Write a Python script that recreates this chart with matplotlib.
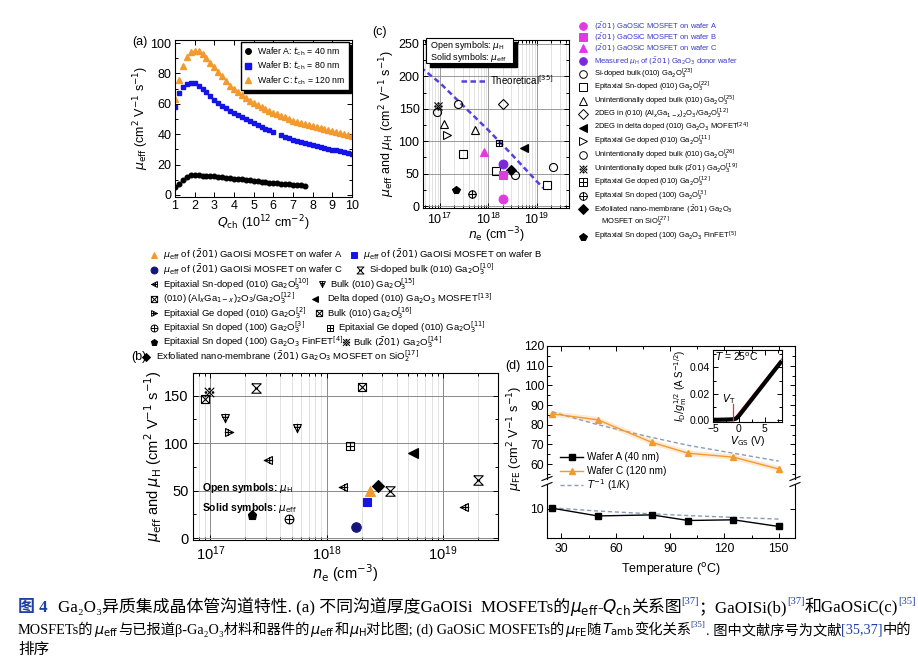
import numpy as np
import matplotlib
matplotlib.use("Agg")
import matplotlib.pyplot as plt
from matplotlib.path import Path
from matplotlib.patches import Rectangle
from matplotlib.ticker import MultipleLocator, FixedLocator, FormatStrFormatter

plt.rcParams['font.family'] = ['Liberation Sans', 'DejaVu Sans']
plt.rcParams['axes.linewidth'] = 0.8

# ---------------- data ----------------
# (a) mu_eff vs Q_ch
Q_GRID = [1.0, 1.2, 1.4, 1.6, 1.8, 2.0, 2.2, 2.4, 2.6, 2.8, 3.0, 3.2, 3.4, 3.6, 3.8, 4.0,
          4.2, 4.4, 4.6, 4.8, 5.0, 5.2, 5.4, 5.6, 5.8, 6.0, 6.2, 6.4, 6.6, 6.8, 7.0, 7.2,
          7.4, 7.6, 7.8, 8.0, 8.2, 8.4, 8.6, 8.8, 9.0, 9.2, 9.4, 9.6, 9.8, 10.0]
mu_wafer_a = [5.0, 7.5, 10.0, 12.0, 13.0, 13.1, 13.0, 12.8, 12.6, 12.4, 12.2, 12.0, 11.7,
              11.4, 11.1, 10.8, 10.5, 10.2, 9.9, 9.6, 9.3, 9.0, 8.7, 8.4, 8.1, 7.9, 7.6,
              7.4, 7.2, 7.0, 6.8, 6.6, 6.4, 6.2]
mu_wafer_b = [58, 67, 71, 73, 74, 73.5, 72, 70, 67.5, 65, 62.5, 60.5, 58.8, 57.2, 55.6, 54,
              52.6, 51.2, 49.8, 48.5, 47.2, 46, 44.8, 43.6, 42.5, 41.4, np.nan, 39.2, 38.2,
              37.2, 36.3, 35.5, 34.8, 34.1, 33.4, 32.7, 32.1, 31.5, 30.9, 30.3, 29.8, 29.3,
              28.8, 28.3, 27.8, 27.3]
mu_wafer_c = [63, 76, 85, 91, 94, 95, 94.5, 92.5, 90, 87, 84, 81, 78, 75, 72, 69.5, 67.5,
              65.5, 63.8, 62, 60.5, 59, 57.7, 56.4, 55.2, 54, 53, 52, 51, 50, 49, 48.2, 47.4,
              46.6, 45.9, 45.2, 44.6, 44, 43.3, 42.6, 42, 41.4, 40.8, 40.2, 39.6, 39]

# (b) GaOISi comparison
b_wafer_a = ([2.35e18], [50])
b_wafer_b = ([2.2e18], [38])
b_wafer_c = ([1.8e18], [12])
b_si_bulk10 = ([2.48e17, 3.5e18, 2.0e19], [158, 50, 61])
b_sn010 = ([3.1e17, 1.39e18, 1.51e19], [82, 54, 33])
b_bulk15 = ([1.33e17, 5.5e17], [127, 116])
b_algao = ([2.0e18], [159])
b_delta = ([5.5e18], [90])
b_ge2 = ([1.46e17], [112])
b_bulk16 = ([0.9e17], [147])
b_sn100 = ([4.75e17], [20])
b_ge11 = ([1.58e18], [97])
b_finfet = ([2.3e17], [24])
b_bulk14 = ([0.98e17], [154])
b_exfol = ([2.75e18], [55])

# (c) GaOSiC comparison
c_wafer_a = ([2.05e18], [11])
c_wafer_b = ([2.05e18], [48])
c_wafer_c = ([8.1e17], [83])
c_donor = ([2.05e18], [65])
c_si_bulk23 = ([2.4e17, 3.6e18, 2.2e19], [157, 48, 60])
c_sn010_22 = ([3.0e17, 1.43e18, 1.65e19], [81, 54, 32])
c_uid25 = ([1.2e17, 5.3e17], [126, 117])
c_2deg = ([2.05e18], [157])
c_delta24 = ([5.4e18], [90])
c_ge11 = ([1.4e17], [110])
c_uid26 = ([0.88e17], [145])
c_uid19 = ([0.92e17], [154])
c_ge12 = ([1.68e18], [97])
c_sn100 = ([4.7e17], [19])
c_exfol = ([2.9e18], [55])
c_finfet = ([2.15e17], [24])
theory_ne = [4.0e16, 1e17, 3e17, 1e18, 3e18, 1e19, 1.35e19]
theory_mu = [214, 190, 155, 117, 80, 38, 28]

# (d) mu_FE vs temperature
temps = [25, 50, 80, 100, 125, 150]
mufe_a = [10.2, 8.0, 8.3, 6.7, 6.9, 5.0]
mufe_c = [85.5, 82.5, 71, 65.5, 63.5, 57.5]
tinv_c = [86.5, 80, 73.5, 69.5, 65.5, 61.5]
tinv_a = [10.3, 9.4, 8.6, 8.1, 7.6, 7.1]
vgs = [-4.5, -4, -3, -2, -1.5, -1, -0.5, 0, 1, 2, 3, 4, 5, 6, 7, 8]
id_gm = [0.0005, 0.0005, 0.0006, 0.0007, 0.0008, 0.0009, 0.0015, 0.0035, 0.0085, 0.0135,
         0.0185, 0.0235, 0.0285, 0.0335, 0.0385, 0.0435]

ORANGE = '#F39A2E'
BLUE = '#1414E6'
NAVY = '#16167A'
MAGENTA = '#E03BE0'
PURPLE = '#7A2AD8'
THEORY = '#5B3DE3'
LEGBLUE = '#3838C8'
DASH = '#8A9BB8'
CAP_BLUE = '#1F3FA8'

W, H = 918, 660
fig = plt.figure(figsize=(W / 100, H / 100), dpi=100)


def add_ax(l, t, r, b):
    return fig.add_axes([l / W, 1 - b / H, (r - l) / W, (b - t) / H])


def polys(*lines):
    verts, codes = [], []
    for ln in lines:
        verts += ln
        codes += [Path.MOVETO] + [Path.LINETO] * (len(ln) - 1)
    return Path(verts, codes)


SQ = [(-1, -1), (1, -1), (1, 1), (-1, 1), (-1, -1)]
MK = {
    'sn010': polys([(1, 1), (1, -1), (-1, 0), (1, 1)], [(-1.2, 0), (1.2, 0)], [(0.3, -0.75), (0.3, 0.75)]),
    'bulk15': polys([(-1, 1), (1, 1), (0, -1), (-1, 1)], [(0, 1.2), (0, -1.2)], [(-0.75, 0.3), (0.75, 0.3)]),
    'ge2': polys([(-1, 1), (-1, -1), (1, 0), (-1, 1)], [(-1.2, 0), (1.2, 0)], [(-0.3, -0.75), (-0.3, 0.75)]),
    'sqx': polys(SQ, [(-1, -1), (1, 1)], [(-1, 1), (1, -1)]),
    'sqplus': polys(SQ, [(-1, 0), (1, 0)], [(0, -1), (0, 1)]),
    'oplus': Path.make_compound_path(Path.unit_circle(), polys([(-1, 0), (1, 0)], [(0, -1), (0, 1)])),
    'hourglass': polys([(-1, 1), (1, 1), (-1, -1), (1, -1), (-1, 1)], [(-0.35, 0), (0.35, 0)]),
    'refmark': Path.make_compound_path(
        polys([(-1, -1), (1, 1)], [(-1, 1), (1, -1)]),
        Path.circle((0, 0.75), 0.16), Path.circle((0, -0.75), 0.16),
        Path.circle((0.75, 0), 0.16), Path.circle((-0.75, 0), 0.16)),
}


def pts(ax, data, marker, color='k', filled=False, ms=6, mew=0.8, **kw):
    ax.plot(data[0], data[1], ls='none', marker=marker, ms=ms, mec=color,
            mfc=color if filled else 'none', mew=mew, clip_on=False, **kw)


def style(ax, size, pad=3):
    ax.tick_params(which='both', direction='in', top=True, right=True, labelsize=size, width=0.7, pad=pad)
    ax.tick_params(which='major', length=3.5)
    ax.tick_params(which='minor', length=2)


# ---------------- (a) ----------------
axA = add_ax(175, 40, 352, 196.5)
axA.plot(Q_GRID[:len(mu_wafer_a)], mu_wafer_a, 'o', color='k', ms=3.3,
         label=r"Wafer A: $t_{\rm ch}$ = 40 nm")
axA.plot(Q_GRID, mu_wafer_b, 's', color=BLUE, ms=3.2, label=r"Wafer B: $t_{\rm ch}$ = 80 nm")
axA.plot(Q_GRID, mu_wafer_c, '^', color=ORANGE, ms=3.8, label=r"Wafer C: $t_{\rm ch}$ = 120 nm")
axA.set_xlim(1, 10)
axA.set_ylim(-1, 102)
axA.xaxis.set_major_locator(MultipleLocator(1))
axA.yaxis.set_major_locator(MultipleLocator(20))
axA.yaxis.set_minor_locator(MultipleLocator(10))
style(axA, 9, pad=2.5)
axA.set_ylabel(r"$\mu_{\rm eff}$ (cm$^2$ V$^{-1}$ s$^{-1}$)", fontsize=9, labelpad=0)
axA.set_xlabel(r"$Q_{\rm ch}$ (10$^{12}$ cm$^{-2}$)", fontsize=9, labelpad=1)
axA.legend(loc='upper right', bbox_to_anchor=(1.005, 1.015), fontsize=6.3, fancybox=False,
           edgecolor='k', framealpha=1, shadow={'color': 'k', 'alpha': 1}, handlelength=1,
           handletextpad=0.5, borderpad=0.35, labelspacing=0.25, markerscale=1.2)

# ---------------- (b) ----------------
axB = add_ax(193, 373, 498, 540)
axB.set_xscale('log')
axB.set_xlim(7.1e16, 2.96e19)
axB.set_ylim(-2, 174)
axB.yaxis.set_major_locator(FixedLocator([0, 50, 100, 150]))
axB.yaxis.set_minor_locator(MultipleLocator(25))
axB.set_axisbelow(True)
axB.grid(True, which='major', color='#8a8a8a', lw=0.7)
axB.grid(True, which='minor', axis='x', color='#d6d6d6', lw=0.5)
style(axB, 10.5)
ms_b = 6.8
pts(axB, b_si_bulk10, MK['hourglass'], ms=ms_b)
pts(axB, b_sn010, MK['sn010'], ms=ms_b)
pts(axB, b_bulk15, MK['bulk15'], ms=ms_b)
pts(axB, b_algao, MK['sqx'], ms=ms_b - 1)
pts(axB, b_delta, '<', filled=True, ms=ms_b)
pts(axB, b_ge2, MK['ge2'], ms=ms_b)
pts(axB, b_bulk16, MK['sqx'], ms=ms_b - 1)
pts(axB, b_sn100, MK['oplus'], ms=ms_b - 0.5)
pts(axB, b_ge11, MK['sqplus'], ms=ms_b - 1)
pts(axB, b_finfet, 'p', filled=True, ms=ms_b)
pts(axB, b_bulk14, MK['refmark'], ms=ms_b)
pts(axB, b_exfol, 'D', filled=True, ms=ms_b - 1)
pts(axB, b_wafer_a, '^', color=ORANGE, filled=True, ms=ms_b)
pts(axB, b_wafer_b, 's', color=BLUE, filled=True, ms=ms_b - 0.5)
pts(axB, b_wafer_c, 'o', color=NAVY, filled=True, ms=ms_b)
axB.set_ylabel(r"$\mu_{\rm eff}$ and $\mu_{\rm H}$ (cm$^2$ V$^{-1}$ s$^{-1}$)", fontsize=10.5, labelpad=0)
axB.set_xlabel(r"$n_{\rm e}$ (cm$^{-3}$)", fontsize=10.5, labelpad=0)
axB.text(0.03, 0.31, r"Open symbols: $\mu_{\rm H}$", transform=axB.transAxes, fontsize=7.5,
         fontweight='bold', va='center')
axB.text(0.03, 0.19, r"Solid symbols: $\mu_{\rm eff}$", transform=axB.transAxes, fontsize=7.5,
         fontweight='bold', va='center')

# ---------------- (c) ----------------
axC = add_ax(423, 40, 569, 208)
axC.set_xscale('log')
axC.set_xlim(4.5e16, 4.6e19)
axC.set_ylim(-3, 256)
axC.yaxis.set_major_locator(MultipleLocator(50))
axC.yaxis.set_minor_locator(MultipleLocator(25))
axC.set_axisbelow(True)
axC.grid(True, which='major', color='#8a8a8a', lw=0.6)
axC.grid(True, which='minor', axis='x', color='#d6d6d6', lw=0.5)
style(axC, 9, pad=2.5)
axC.plot(theory_ne, theory_mu, ls=(0, (2.2, 1.4)), color=THEORY, lw=1.8)
ms_c = 5.8
pts(axC, c_si_bulk23, 'o', ms=ms_c)
pts(axC, c_sn010_22, 's', ms=ms_c - 0.5)
pts(axC, c_uid25, '^', ms=ms_c)
pts(axC, c_2deg, 'D', ms=ms_c - 0.5)
pts(axC, c_delta24, '<', filled=True, ms=ms_c)
pts(axC, c_ge11, '>', ms=ms_c)
pts(axC, c_uid26, 'o', ms=ms_c)
pts(axC, c_uid19, MK['refmark'], ms=ms_c)
pts(axC, c_ge12, MK['sqplus'], ms=ms_c - 1)
pts(axC, c_sn100, MK['oplus'], ms=ms_c - 0.5)
pts(axC, c_exfol, 'D', filled=True, ms=ms_c - 0.5)
pts(axC, c_finfet, 'p', filled=True, ms=ms_c)
pts(axC, c_donor, 'o', color=PURPLE, filled=True, ms=ms_c + 0.5)
pts(axC, c_wafer_b, 's', color=MAGENTA, filled=True, ms=ms_c)
pts(axC, c_wafer_c, '^', color=MAGENTA, filled=True, ms=ms_c + 0.5)
pts(axC, c_wafer_a, 'o', color=MAGENTA, filled=True, ms=ms_c + 0.5)
axC.set_ylabel(r"$\mu_{\rm eff}$ and $\mu_{\rm H}$ (cm$^2$ V$^{-1}$ s$^{-1}$)", fontsize=9, labelpad=1)
axC.set_xlabel(r"$n_{\rm e}$ (cm$^{-3}$)", fontsize=9, labelpad=-1)

# ---------------- (d) ----------------
axD = add_ax(547, 346, 795, 479)
axD2 = add_ax(547, 484, 795, 537.5)
for ax in (axD, axD2):
    ax.set_xlim(22, 159)
    ax.xaxis.set_major_locator(MultipleLocator(30))
    ax.xaxis.set_minor_locator(MultipleLocator(15))
    style(ax, 8.7, pad=2)
axD.set_ylim(52.4, 120)
axD.yaxis.set_major_locator(MultipleLocator(10))
axD.yaxis.set_minor_locator(MultipleLocator(5))
axD.spines['bottom'].set_visible(False)
axD.tick_params(which='both', bottom=False, labelbottom=False)
axD2.set_ylim(1.86, 17.1)
axD2.yaxis.set_major_locator(FixedLocator([10]))
axD2.spines['top'].set_visible(False)
axD2.tick_params(which='both', top=False)
axD2.tick_params(axis='x', pad=4)
axD.plot(temps, tinv_c, ls=(0, (3, 2)), color=DASH, lw=1)
axD.plot(temps, mufe_c, '-', color=ORANGE, lw=4, alpha=0.2, solid_capstyle='round')
axD.plot(temps, mufe_c, '-^', color=ORANGE, lw=1, ms=5, clip_on=False)
axD.plot(temps, mufe_a, '-s', color='k', lw=1, ms=4)
axD2.plot(temps, tinv_a, ls=(0, (3, 2)), color=DASH, lw=1)
axD2.plot(temps, mufe_a, '-s', color='k', lw=1, ms=4, clip_on=False)
axD2.set_xlabel("Temperature ($^{\\rm o}$C)", fontsize=9, labelpad=4)

# inset
axI = add_ax(713, 350, 782, 421.5)
axI.plot([-1.2, 8.3], [0, 0.0465], color='#E0304A', lw=0.8)
axI.plot(vgs, id_gm, color='k', lw=3)
axI.plot([-1.2, -1.2], [0, 0.012], color='#E0304A', lw=0.9)
axI.set_xlim(-5, 8.3)
axI.set_ylim(-0.0008, 0.053)
axI.xaxis.set_major_locator(FixedLocator([-5, 0, 5]))
axI.xaxis.set_minor_locator(MultipleLocator(2.5))
axI.yaxis.set_major_locator(FixedLocator([0.0, 0.02, 0.04]))
axI.yaxis.set_minor_locator(MultipleLocator(0.01))
axI.yaxis.set_major_formatter(FormatStrFormatter('%.2f'))
style(axI, 7.5, pad=2)
axI.set_xlabel(r"$V_{\rm GS}$ (V)", fontsize=7.5, labelpad=0)
axI.set_ylabel(r"$I_{\rm D}/g_{\rm m}^{1/2}$ (A S$^{-1/2}$)", fontsize=7, labelpad=1)
axI.text(0.03, 0.84, r"$T$ = 25$^{\rm o}$C", transform=axI.transAxes, fontsize=7.5)
axI.text(-3.3, 0.014, r"$V_{\rm T}$", fontsize=7.5)

# ---------------- overlay (legends, labels, breaks) ----------------
ov = fig.add_axes([0, 0, 1, 1])
ov.set_xlim(0, W)
ov.set_ylim(H, 0)
ov.axis('off')


def entry(xm, xt, y, label, mk, color='k', filled=False, ms=5, fs=6, tcolor='k'):
    ov.plot([xm], [y], ls='none', marker=mk, ms=ms, mec=color, mfc=color if filled else 'none',
            mew=0.7, clip_on=False)
    ov.text(xt, y, label, fontsize=fs, va='center', ha='left', color=tcolor)


bar = r"$(\bar{2}01)$"
# (b) legend
fb = 6.8
entry(154, 163, 255, r"$\mu_{\rm eff}$ of " + bar + " GaOISi MOSFET on wafer A", '^', ORANGE, True, fs=fb)
entry(354, 363, 255, r"$\mu_{\rm eff}$ of " + bar + " GaOISi MOSFET on wafer B", 's', BLUE, True, fs=fb)
entry(154, 163, 269.5, r"$\mu_{\rm eff}$ of " + bar + " GaOISi MOSFET on wafer C", 'o', NAVY, True, fs=fb)
entry(360, 369, 269.5, r"Si-doped bulk (010) Ga$_2$O$_3^{[10]}$", MK['hourglass'], fs=fb)
entry(154, 163, 284, r"Epitaxial Sn-doped (010) Ga$_2$O$_3^{[10]}$", MK['sn010'], fs=fb)
entry(322, 330, 284, r"Bulk (010) Ga$_2$O$_3^{[15]}$", MK['bulk15'], fs=fb)
entry(154, 163, 298.5, r"(010) (Al$_x$Ga$_{1-x}$)$_2$O$_3$/Ga$_2$O$_3^{[12]}$", MK['sqx'], ms=4.5, fs=fb)
entry(315, 327, 298.5, r"Delta doped (010) Ga$_2$O$_3$ MOSFET$^{[13]}$", '<', 'k', True, fs=fb)
entry(154, 163, 313, r"Epitaxial Ge doped (010) Ga$_2$O$_3^{[2]}$", MK['ge2'], fs=fb)
entry(319, 327, 313, r"Bulk (010) Ga$_2$O$_3^{[16]}$", MK['sqx'], ms=4.5, fs=fb)
entry(154, 163, 327.5, r"Epitaxial Sn doped (100) Ga$_2$O$_3^{[3]}$", MK['oplus'], fs=fb)
entry(330, 338, 327.5, r"Epitaxial Ge doped (010) Ga$_2$O$_3^{[11]}$", MK['sqplus'], ms=4.5, fs=fb)
entry(154, 163, 342, r"Epitaxial Sn doped (100) Ga$_2$O$_3$ FinFET$^{[4]}$", 'p', 'k', True, fs=fb)
entry(346, 353, 342, r"Bulk " + bar + r" Ga$_2$O$_3^{[14]}$", MK['refmark'], fs=fb)
entry(146, 156, 356.5, r"Exfoliated nano-membrane " + bar + r" Ga$_2$O$_3$ MOSFET on SiO$_2^{[17]}$", 'D', 'k', True, ms=4.5, fs=fb)

# (c) legend
fc = 5.4
cl = [
    (26, bar + " GaOSiC MOSFET on wafer A", 'o', MAGENTA, True, LEGBLUE),
    (37, bar + " GaOSiC MOSFET on wafer B", 's', MAGENTA, True, LEGBLUE),
    (48, bar + " GaOSiC MOSFET on wafer C", '^', MAGENTA, True, LEGBLUE),
    (61, r"Measured $\mu_{\rm H}$ of " + bar + r" Ga$_2$O$_3$ donor wafer", 'o', PURPLE, True, LEGBLUE),
    (74, r"Si-doped bulk (010) Ga$_2$O$_3^{[23]}$", 'o', 'k', False, 'k'),
    (87, r"Epitaxial Sn-doped (010) Ga$_2$O$_3^{[22]}$", 's', 'k', False, 'k'),
    (100.5, r"Unintentionally doped bulk (010) Ga$_2$O$_3^{[25]}$", '^', 'k', False, 'k'),
    (114, r"2DEG in (010) (Al$_x$Ga$_{1-x}$)$_2$O$_3$/Ga$_2$O$_3^{[12]}$", 'D', 'k', False, 'k'),
    (127.5, r"2DEG in delta doped (010) Ga$_2$O$_3$ MOFET$^{[24]}$", '<', 'k', True, 'k'),
    (141, r"Epitaxial Ge doped (010) Ga$_2$O$_3^{[11]}$", '>', 'k', False, 'k'),
    (155, r"Unintentionally doped bulk (010) Ga$_2$O$_3^{[26]}$", 'o', 'k', False, 'k'),
    (168.5, r"Unintentionally doped bulk " + bar + r" Ga$_2$O$_3^{[19]}$", MK['refmark'], 'k', False, 'k'),
    (182, r"Epitaxial Ge doped (010) Ga$_2$O$_3^{[12]}$", MK['sqplus'], 'k', False, 'k'),
    (195.5, r"Epitaxial Sn doped (100) Ga$_2$O$_3^{[3]}$", MK['oplus'], 'k', False, 'k'),
    (209, r"Exfoliated nano-membrane " + bar + r" Ga$_2$O$_3$", 'D', 'k', True, 'k'),
    (236.5, r"Epitaxial Sn doped (100) Ga$_2$O$_3$ FinFET$^{[5]}$", 'p', 'k', True, 'k'),
]
for y, lab, mk, col, fill, tc in cl:
    entry(583, 594, y, lab, mk, col, fill, ms=5.5, fs=fc, tcolor=tc)
ov.text(601, 222, r"MOSFET on SiO$_2^{[27]}$", fontsize=fc, va='center')

# (c) text box with shadow and theory legend
ov.add_patch(Rectangle((430, 42), 87, 25, facecolor='k', edgecolor='k'))
ov.add_patch(Rectangle((426, 38), 87, 25, facecolor='w', edgecolor='k', lw=0.8))
ov.text(430, 45.5, r"Open symbols: $\mu_{\rm H}$", fontsize=6.5, va='center')
ov.text(430, 57.5, r"Solid symbols: $\mu_{\rm eff}$", fontsize=6.5, va='center')
ov.plot([461, 487], [81, 81], ls=(0, (2.2, 1.4)), color=THEORY, lw=1.8)
ov.text(490, 80, r"Theoretical$^{[35]}$", fontsize=7, va='center')

# (d) legend
ov.plot([560, 583], [457, 457], '-', color='k', lw=1)
ov.plot([571.5], [457], 's', color='k', ms=4)
ov.plot([560, 583], [471, 471], '-', color=ORANGE, lw=1)
ov.plot([571.5], [471], '^', color=ORANGE, ms=5)
ov.plot([560, 583], [485, 485], ls=(0, (3, 2)), color=DASH, lw=1)
ov.text(587, 457, "Wafer A (40 nm)", fontsize=7.2, va='center')
ov.text(587, 471, "Wafer C (120 nm)", fontsize=7.2, va='center')
ov.text(587, 485, r"$T^{-1}$ (1/K)", fontsize=7.2, va='center')
ov.text(515, 438, r"$\mu_{\rm FE}$ (cm$^2$ V$^{-1}$ s$^{-1}$)", fontsize=9.2, rotation=90,
        ha='center', va='center')
# axis break marks
for xs in (547, 795):
    ov.plot([xs - 5, xs + 5], [480.5, 476.5], color='k', lw=0.8, clip_on=False)
    ov.plot([xs - 5, xs + 5], [486.5, 482.5], color='k', lw=0.8, clip_on=False)

# panel labels
ov.text(132, 42, "(a)", fontsize=9, va='center')
ov.text(372, 32, "(c)", fontsize=9, va='center')
ov.text(131, 357, "(b)", fontsize=9, va='center')
ov.text(505, 366, "(d)", fontsize=9, va='center')

# ---------------- caption ----------------
CAP_FAMILY = ['Liberation Serif', 'Noto Sans CJK SC', 'DejaVu Serif']
renderer = fig.canvas.get_renderer()

cap_lines = [
    (612, 899, [("图 4", 'bb'), ("gap", 10), ("Ga₂O₃异质集成晶体管沟道特性. (a) 不同沟道厚度GaOISi  MOSFETs的", 'k'),
                (r"$\mu_{\rm eff}$-$Q_{\rm ch}$", 'k'), ("关系图", 'k'), ("[37]", 'sup'),
                ("；GaOISi(b)", 'k'), ("[37]", 'sup'), ("和GaOSiC(c)", 'k'), ("[35]", 'sup')]),
    (634, 889, [("MOSFETs的", 'k'), (r"$\mu_{\rm eff}$", 'k'), ("与已报道β-Ga₂O₃材料和器件的", 'k'),
                (r"$\mu_{\rm eff}$", 'k'), ("和", 'k'), (r"$\mu_{\rm H}$", 'k'),
                ("对比图; (d) GaOSiC MOSFETs的", 'k'), (r"$\mu_{\rm FE}$", 'k'), ("随", 'k'),
                (r"$T_{\rm amb}$", 'k'), ("变化关系", 'k'), ("[35]", 'sup'), (". 图中文献序号为文献", 'k'),
                ("[35,37]", 'blue'), ("中的", 'k')]),
    (654, None, [("排序", 'k')]),
]


def place_line(parts, y, fs):
    x = 18
    out = []
    for s, kind in parts:
        if s == "gap":
            x += kind
            continue
        color = CAP_BLUE if kind in ('bb', 'sup', 'blue') else 'k'
        size = fs * 0.62 if kind == 'sup' else fs
        dy = fs * 0.5 * 100 / 72 if kind == 'sup' else 0
        t = fig.text(x / W, 1 - (y - dy) / H, s, fontsize=size, color=color, family=CAP_FAMILY,
                     fontweight='bold' if kind == 'bb' else 'normal', va='baseline', ha='left')
        x += t.get_window_extent(renderer).width
        out.append(t)
    return out, x - 18


base_fs = 11
sizes = []
for y, target, parts in cap_lines:
    fs = base_fs if not sizes else float(np.mean(sizes))
    texts, width = place_line(parts, y, fs)
    if target is not None:
        for t in texts:
            t.remove()
        fs = fs * target / width
        sizes.append(fs)
        place_line(parts, y, fs)

fig.savefig("out.png", dpi=100)
